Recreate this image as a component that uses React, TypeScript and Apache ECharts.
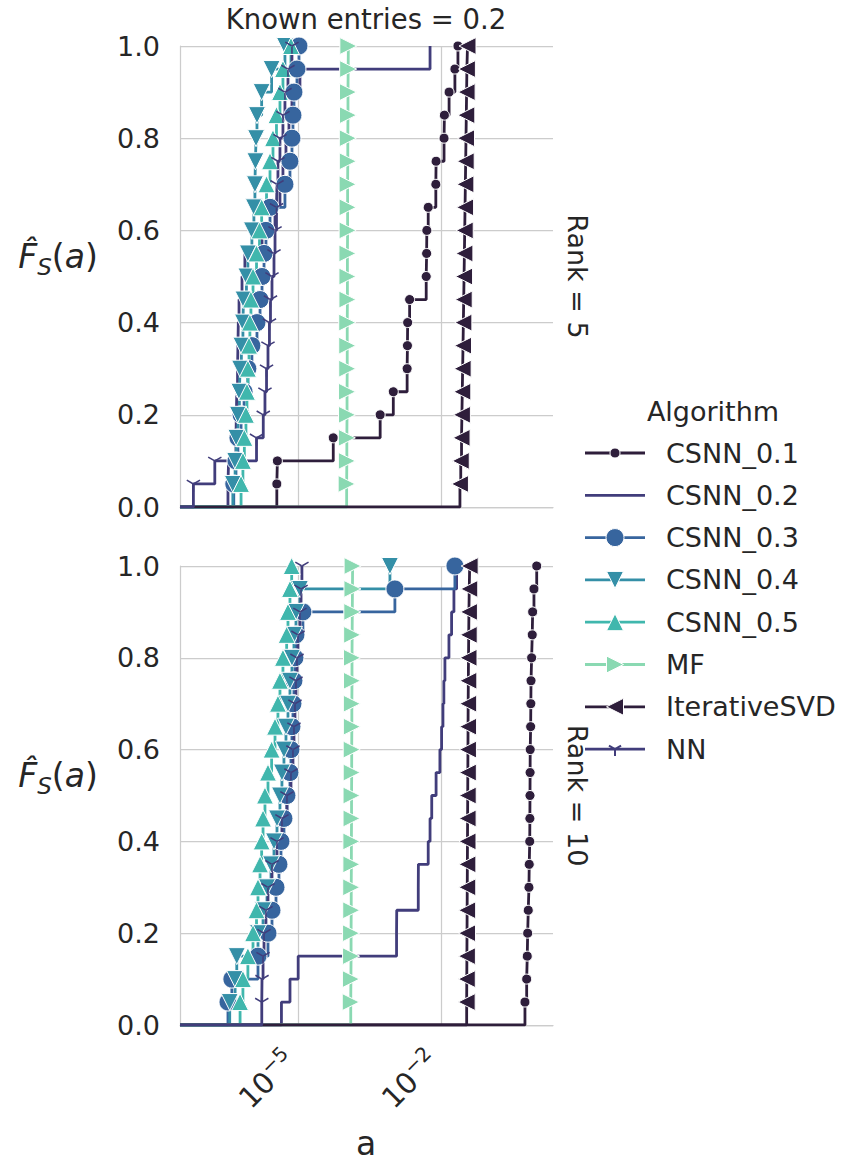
import React, { useEffect, useRef } from "react";
import * as echarts from "echarts";

// ---- labels -------------------------------------------------------------
const ALGORITHMS = ["CSNN_0.1", "CSNN_0.2", "CSNN_0.3", "CSNN_0.4", "CSNN_0.5", "MF", "IterativeSVD", "NN"];
const PALETTE = ["#2e1e3b", "#413d7b", "#37659e", "#348fa7", "#40b7ad", "#8ad9b2", "#2e1e3b", "#413d7b"];
const MARKERS = ["dot", "none", "circle", "down", "up", "right", "left", "tri"];
const ROW_LABELS = ["Rank = 5", "Rank = 10"];
const COLUMN_TITLE = "Known entries = 0.2";
const LEGEND_TITLE = "Algorithm";
const X_TICKS = [1e-5, 1e-2];
const X_RANGE = [3.35e-8, 2.24];
const Y_RANGE = [0, 1];
const Y_STEP = 0.2;

// ---- samples, rank = 5 --------------------------------------------------
const rank5Csnn01 = [3.6e-6, 3.7e-6, 5.5e-5, 5.3e-4, 1.0e-3, 1.95e-3, 1.98e-3, 2.0e-3, 2.2e-3, 4.9e-3, 5.0e-3, 5.05e-3, 5.4e-3, 7.8e-3, 7.9e-3, 1.16e-2, 1.18e-2, 1.48e-2, 1.96e-2, 2.27e-2];
const rank5Csnn02 = [3.4e-7, 3.5e-7, 5.0e-7, 5.1e-7, 5.2e-7, 5.4e-7, 5.5e-7, 5.6e-7, 5.8e-7, 6.7e-7, 7.7e-7, 1.76e-6, 3.3e-6, 4.19e-6, 4.84e-6, 5.6e-6, 6.47e-6, 7.48e-6, 1.1e-5, 5.9e-3];
const rank5Csnn03 = [4.5e-7, 5.0e-7, 5.5e-7, 6.4e-7, 7.4e-7, 8.9e-7, 1.08e-6, 1.38e-6, 1.6e-6, 1.76e-6, 1.94e-6, 2.13e-6, 2.59e-6, 5.33e-6, 6.79e-6, 7.48e-6, 7.85e-6, 8.24e-6, 9.53e-6, 1.05e-5];
const rank5Csnn04 = [4.3e-7, 4.8e-7, 5.1e-7, 5.5e-7, 5.9e-7, 6.1e-7, 6.5e-7, 7.0e-7, 7.2e-7, 8.3e-7, 8.9e-7, 1.08e-6, 1.19e-6, 1.25e-6, 1.28e-6, 1.32e-6, 1.38e-6, 1.73e-6, 2.8e-6, 5.33e-6];
const rank5Csnn05 = [6.4e-7, 7.0e-7, 7.5e-7, 8.1e-7, 8.5e-7, 8.9e-7, 9.4e-7, 9.8e-7, 1.03e-6, 1.14e-6, 1.35e-6, 1.56e-6, 1.73e-6, 2.19e-6, 2.59e-6, 2.99e-6, 3.54e-6, 4.19e-6, 4.84e-6, 7.13e-6];
const rank5Mf = [1.05e-4, 1.06e-4, 1.06e-4, 1.07e-4, 1.07e-4, 1.08e-4, 1.08e-4, 1.08e-4, 1.09e-4, 1.09e-4, 1.09e-4, 1.1e-4, 1.1e-4, 1.1e-4, 1.11e-4, 1.11e-4, 1.12e-4, 1.12e-4, 1.13e-4, 1.14e-4];
const rank5IterSvd = [2.5e-2, 2.6e-2, 2.7e-2, 2.75e-2, 2.8e-2, 2.85e-2, 2.9e-2, 2.95e-2, 3.0e-2, 3.05e-2, 3.1e-2, 3.15e-2, 3.2e-2, 3.25e-2, 3.3e-2, 3.35e-2, 3.4e-2, 3.45e-2, 3.5e-2, 3.6e-2];
const rank5Nn = [6.4e-8, 1.8e-7, 1.35e-6, 1.87e-6, 2.03e-6, 2.19e-6, 2.35e-6, 2.52e-6, 2.65e-6, 2.85e-6, 3.14e-6, 3.3e-6, 3.54e-6, 3.63e-6, 3.8e-6, 4.19e-6, 4.84e-6, 5.33e-6, 6.17e-6, 7.48e-6];

// ---- samples, rank = 10 -------------------------------------------------
const rank10Csnn01 = [0.578, 0.628, 0.646, 0.659, 0.678, 0.701, 0.711, 0.728, 0.733, 0.737, 0.741, 0.745, 0.761, 0.768, 0.775, 0.798, 0.822, 0.838, 0.893, 1.02];
const rank10Csnn02 = [4.5e-6, 6.8e-6, 1.01e-5, 1.17e-3, 1.18e-3, 3.34e-3, 3.36e-3, 5.4e-3, 5.9e-3, 6.4e-3, 7.9e-3, 9.5e-3, 1.03e-2, 1.1e-2, 1.15e-2, 1.21e-2, 1.47e-2, 1.67e-2, 1.87e-2, 2.13e-2];
const rank10Csnn03 = [3.4e-7, 4.1e-7, 1.45e-6, 2.35e-6, 2.85e-6, 3.46e-6, 3.99e-6, 4.4e-6, 5.08e-6, 5.87e-6, 6.79e-6, 7.13e-6, 7.48e-6, 7.85e-6, 8.24e-6, 8.65e-6, 9.08e-6, 1.27e-5, 1.08e-3, 1.96e-2];
const rank10Csnn04 = [3.7e-7, 4.8e-7, 5.2e-7, 1.45e-6, 1.85e-6, 2.24e-6, 2.72e-6, 3.14e-6, 3.63e-6, 4.19e-6, 4.61e-6, 5.08e-6, 5.6e-6, 6.17e-6, 6.79e-6, 7.48e-6, 8.24e-6, 9.08e-6, 1.1e-5, 8.5e-4];
const rank10Csnn05 = [6.1e-7, 7.0e-7, 8.9e-7, 1.14e-6, 1.35e-6, 1.45e-6, 1.6e-6, 1.73e-6, 1.85e-6, 2.03e-6, 2.35e-6, 2.8e-6, 3.3e-6, 3.8e-6, 4.19e-6, 4.84e-6, 5.79e-6, 6.17e-6, 6.79e-6, 7.38e-6];
const rank10Mf = [1.28e-4, 1.29e-4, 1.3e-4, 1.3e-4, 1.31e-4, 1.31e-4, 1.32e-4, 1.32e-4, 1.33e-4, 1.33e-4, 1.34e-4, 1.34e-4, 1.35e-4, 1.35e-4, 1.36e-4, 1.36e-4, 1.37e-4, 1.38e-4, 1.39e-4, 1.4e-4];
const rank10IterSvd = [3.46e-2, 3.48e-2, 3.5e-2, 3.52e-2, 3.54e-2, 3.56e-2, 3.58e-2, 3.6e-2, 3.62e-2, 3.64e-2, 3.66e-2, 3.68e-2, 3.7e-2, 3.72e-2, 3.75e-2, 3.78e-2, 3.82e-2, 3.86e-2, 3.92e-2, 4.0e-2];
const rank10Nn = [1.74e-6, 1.76e-6, 1.85e-6, 1.94e-6, 2.13e-6, 2.35e-6, 2.85e-6, 3.63e-6, 4.61e-6, 5.87e-6, 7.13e-6, 7.85e-6, 8.24e-6, 8.65e-6, 9.08e-6, 9.53e-6, 1.0e-5, 1.1e-5, 1.16e-5, 1.21e-5];

const PANELS = [
  [rank5Csnn01, rank5Csnn02, rank5Csnn03, rank5Csnn04, rank5Csnn05, rank5Mf, rank5IterSvd, rank5Nn],
  [rank10Csnn01, rank10Csnn02, rank10Csnn03, rank10Csnn04, rank10Csnn05, rank10Mf, rank10IterSvd, rank10Nn],
];

// ---- styling ------------------------------------------------------------
const FONT = "DejaVu Sans";
const TEXT = "#262626";
const GRID_LINE = "#cccccc";
const LINE_WIDTH = 2.8;
const GRIDS = [
  { left: 180, top: 46, width: 373, height: 461 },
  { left: 180, top: 566, width: 373, height: 459 },
];

// tri_down marker drawn as three thin arms
const TRI_PATH =
  "path://M9,10L11,10L11,20L9,20Z M9.5,10.866L10.5,9.134L1.84,4.134L0.84,5.866Z M10.5,10.866L9.5,9.134L18.16,4.134L19.16,5.866Z";

const SYMBOLS: Record<string, { symbol: string; size: number | number[]; offset?: number[]; edge: boolean }> = {
  dot: { symbol: "circle", size: 10, edge: true },
  none: { symbol: "none", size: 0, edge: false },
  circle: { symbol: "circle", size: 18, edge: true },
  down: { symbol: "path://M0,0L20,0L10,20Z", size: 17, edge: true },
  up: { symbol: "path://M10,0L20,20L0,20Z", size: 17, edge: true },
  right: { symbol: "path://M0,0L20,10L0,20Z", size: 17, edge: true },
  left: { symbol: "path://M20,0L0,10L20,20Z", size: 17, edge: true },
  tri: { symbol: TRI_PATH, size: [14, 12.2], offset: [0, 1.6], edge: false },
};

function ecdf(samples: number[]) {
  const sorted = [...samples].sort((a, b) => a - b);
  const n = sorted.length;
  return sorted.map((v, i) => [v, (i + 1) / n]);
}

function legendMarker(kind: string, cx: number, cy: number, color: string): any[] {
  const edge = { stroke: "#ffffff", lineWidth: 1 };
  const r = 8.5;
  switch (kind) {
    case "dot":
      return [{ type: "circle", shape: { cx, cy, r: 5 }, style: { fill: color, ...edge } }];
    case "circle":
      return [{ type: "circle", shape: { cx, cy, r: 9 }, style: { fill: color, ...edge } }];
    case "down":
      return [{ type: "polygon", shape: { points: [[cx - r, cy - r], [cx + r, cy - r], [cx, cy + r]] }, style: { fill: color, ...edge } }];
    case "up":
      return [{ type: "polygon", shape: { points: [[cx, cy - r], [cx + r, cy + r], [cx - r, cy + r]] }, style: { fill: color, ...edge } }];
    case "right":
      return [{ type: "polygon", shape: { points: [[cx - r, cy - r], [cx + r, cy], [cx - r, cy + r]] }, style: { fill: color, ...edge } }];
    case "left":
      return [{ type: "polygon", shape: { points: [[cx + r, cy - r], [cx - r, cy], [cx + r, cy + r]] }, style: { fill: color, ...edge } }];
    case "tri": {
      const s = 7;
      const st = { stroke: color, lineWidth: 2 };
      return [
        { type: "line", shape: { x1: cx, y1: cy, x2: cx, y2: cy + s }, style: st },
        { type: "line", shape: { x1: cx, y1: cy, x2: cx - s * 0.866, y2: cy - s * 0.5 }, style: st },
        { type: "line", shape: { x1: cx, y1: cy, x2: cx + s * 0.866, y2: cy - s * 0.5 }, style: st },
      ];
    }
    default:
      return [];
  }
}

function buildOption() {
  const xAxis = GRIDS.map((_, p) => ({
    type: "log",
    logBase: 10,
    gridIndex: p,
    min: X_RANGE[0],
    max: X_RANGE[1],
    axisLine: { show: true, lineStyle: { color: GRID_LINE, width: 1.25 } },
    axisTick: { show: false, customValues: X_TICKS },
    splitLine: { show: true, lineStyle: { color: GRID_LINE, width: 1.25 } },
    axisLabel:
      p === GRIDS.length - 1
        ? {
            show: true,
            customValues: X_TICKS,
            rotate: 45,
            margin: 24,
            formatter: (v: number) => `{b|10}{s|\u2212${Math.abs(Math.round(Math.log10(v)))}}{g|}`,
            rich: {
              b: { fontFamily: FONT, fontSize: 29, color: TEXT, lineHeight: 38 },
              s: { fontFamily: FONT, fontSize: 20, color: TEXT, lineHeight: 22, verticalAlign: "top" },
              g: { width: 10 },
            },
          }
        : { show: false },
  }));

  const yAxis = GRIDS.map((_, p) => ({
    type: "value",
    gridIndex: p,
    min: Y_RANGE[0],
    max: Y_RANGE[1],
    interval: Y_STEP,
    axisLine: { show: true, lineStyle: { color: GRID_LINE, width: 1.25 } },
    axisTick: { show: false },
    splitLine: { show: true, lineStyle: { color: GRID_LINE, width: 1.25 } },
    axisLabel: {
      fontFamily: FONT,
      fontSize: 27,
      color: TEXT,
      margin: 20,
      formatter: (v: number) => v.toFixed(1),
    },
  }));

  const series: any[] = [];
  PANELS.forEach((panel, p) => {
    panel.forEach((samples, k) => {
      const m = SYMBOLS[MARKERS[k]];
      const color = PALETTE[k];
      series.push({
        type: "line",
        name: ALGORITHMS[k],
        xAxisIndex: p,
        yAxisIndex: p,
        step: "end",
        symbol: m.symbol,
        symbolSize: m.size,
        symbolOffset: m.offset || [0, 0],
        showSymbol: m.symbol !== "none",
        clip: true,
        silent: true,
        z: 2,
        lineStyle: { color, width: LINE_WIDTH },
        itemStyle: m.edge
          ? { color, borderColor: "#ffffff", borderWidth: 1 }
          : { color, borderWidth: 0 },
        emphasis: { disabled: true },
        data: [{ value: [X_RANGE[0], 0], symbol: "none" }, ...ecdf(samples)],
      });
    });
  });

  // legend, facet labels and axis titles
  const graphic: any[] = [];
  graphic.push({
    type: "text",
    x: 366,
    y: 19,
    style: { text: COLUMN_TITLE, fontFamily: FONT, fontSize: 27.5, fill: TEXT, align: "center", verticalAlign: "middle" },
  });
  GRIDS.forEach((g, p) => {
    const midY = g.top + g.height / 2;
    graphic.push({
      type: "text",
      x: 577,
      y: midY,
      rotation: -Math.PI / 2,
      style: { text: ROW_LABELS[p], fontFamily: FONT, fontSize: 27, fill: TEXT, align: "center", verticalAlign: "middle" },
    });
    graphic.push({
      type: "text",
      x: 58,
      y: midY - 20,
      style: {
        text: "{f|F\u0302}{s|S}{p|(}{f|a}{p|)}",
        align: "center",
        verticalAlign: "middle",
        rich: {
          f: { fontFamily: FONT, fontSize: 33, fontStyle: "italic", fill: TEXT, lineHeight: 44 },
          s: { fontFamily: FONT, fontSize: 23, fontStyle: "italic", fill: TEXT, lineHeight: 30, verticalAlign: "bottom" },
          p: { fontFamily: FONT, fontSize: 33, fill: TEXT, lineHeight: 44 },
        },
      },
    });
  });
  graphic.push({
    type: "text",
    x: 366,
    y: 1143,
    style: { text: "a", fontFamily: FONT, fontSize: 33, fill: TEXT, align: "center", verticalAlign: "middle" },
  });

  graphic.push({
    type: "text",
    x: 713,
    y: 411,
    style: { text: LEGEND_TITLE, fontFamily: FONT, fontSize: 27, fill: TEXT, align: "center", verticalAlign: "middle" },
  });
  ALGORITHMS.forEach((name, k) => {
    const cy = 453 + k * 42.3;
    const color = PALETTE[k];
    graphic.push({ type: "line", shape: { x1: 585, y1: cy, x2: 645, y2: cy }, style: { stroke: color, lineWidth: LINE_WIDTH } });
    legendMarker(MARKERS[k], 615, cy, color).forEach((e) => graphic.push(e));
    graphic.push({
      type: "text",
      x: 666,
      y: cy,
      style: { text: name, fontFamily: FONT, fontSize: 27, fill: TEXT, align: "left", verticalAlign: "middle" },
    });
  });

  return {
    animation: false,
    backgroundColor: "#ffffff",
    textStyle: { fontFamily: FONT },
    grid: GRIDS.map((g) => ({ ...g, containLabel: false })),
    xAxis,
    yAxis,
    series,
    graphic,
  };
}

export default function App() {
  const ref = useRef<HTMLDivElement>(null);
  useEffect(() => {
    if (!ref.current) return;
    const chart = echarts.init(ref.current, null, { renderer: "svg" });
    chart.setOption(buildOption() as any);
    return () => chart.dispose();
  }, []);
  return (
    <div
      ref={ref}
      style={{ position: "absolute", left: 0, top: 0, width: 845, height: 1165, background: "#ffffff" }}
    />
  );
}
